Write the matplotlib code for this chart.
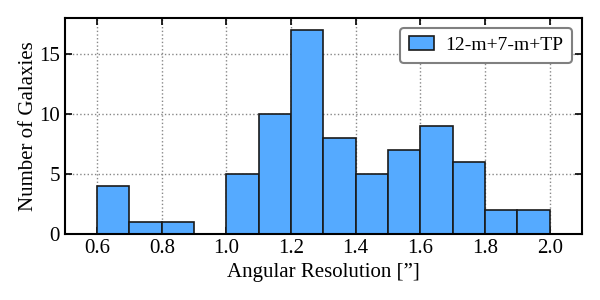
import matplotlib
matplotlib.use("Agg")
import matplotlib.pyplot as plt
import numpy as np

# histograma da resolucao angular (largura de bin 0.1")
bordas = [0.6, 0.7, 0.8, 0.9, 1.0, 1.1, 1.2, 1.3, 1.4, 1.5, 1.6, 1.7, 1.8, 1.9, 2.0]
contagens = [4, 1, 1, 0, 5, 10, 17, 8, 5, 7, 9, 6, 2, 2]
rotulo = "12-m+7-m+TP"

plt.rcParams["font.family"] = ["Liberation Serif", "DejaVu Serif"]
plt.rcParams["font.size"] = 15

fig, ax = plt.subplots(figsize=(6, 3), dpi=100)
centros = [(bordas[i] + bordas[i + 1]) / 2 for i in range(len(contagens))]
ax.hist(centros, bins=bordas, weights=contagens, color="#55aaff",
        edgecolor="#1a1a1a", linewidth=1.2, label=rotulo)

ax.set_xlim(0.5, 2.1)
ax.set_ylim(0, 18)
ax.set_xticks(np.arange(0.6, 2.01, 0.2))
ax.set_yticks([0, 5, 10, 15])
ax.tick_params(direction="in", top=True, right=True, length=5, width=1.2)
for s in ax.spines.values():
    s.set_linewidth(1.5)
ax.set_axisbelow(True)
ax.grid(True, ls=":", color="#888888", lw=1)
ax.set_xlabel("Angular Resolution [\u201d]")
ax.set_ylabel("Number of Galaxies", labelpad=1)
leg = ax.legend(loc="upper right", fancybox=True, framealpha=1, fontsize=14,
                handlelength=1.3, borderpad=0.45, handletextpad=0.6)
leg.get_frame().set_edgecolor("gray")
leg.get_frame().set_linewidth(1.5)

fig.subplots_adjust(left=0.108, right=0.97, top=0.94, bottom=0.22)
fig.savefig("out.png", dpi=100)
